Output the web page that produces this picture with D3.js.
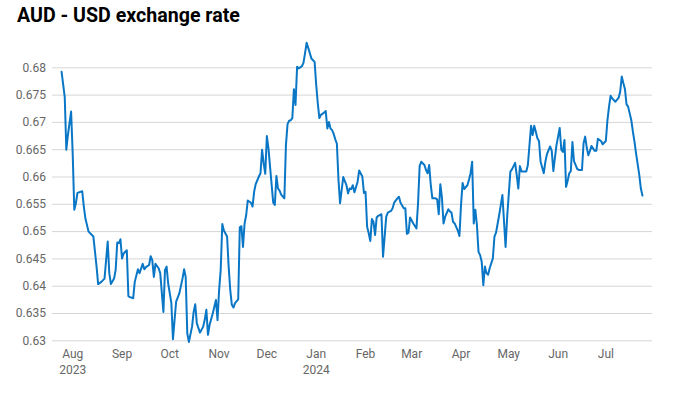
<!DOCTYPE html>
<html>
<head>
<meta charset="utf-8">
<script src="https://cdn.jsdelivr.net/npm/d3@7"></script>
<style>
  html, body { margin: 0; padding: 0; background: #fff; }
  svg { display: block; }
</style>
</head>
<body>
<svg id="chart" width="695" height="393"></svg>
<script>
const titleText = "AUD - USD exchange rate";

const dates = [
"2023-07-25","2023-07-27","2023-07-28","2023-07-29","2023-07-31","2023-08-01","2023-08-02","2023-08-03","2023-08-04","2023-08-07",
"2023-08-08","2023-08-09","2023-08-11","2023-08-14","2023-08-16","2023-08-17","2023-08-19","2023-08-21","2023-08-23","2023-08-24",
"2023-08-25","2023-08-27","2023-08-28","2023-08-29","2023-08-30","2023-08-31","2023-09-01","2023-09-02","2023-09-04","2023-09-05",
"2023-09-06","2023-09-08","2023-09-09","2023-09-11","2023-09-12","2023-09-14","2023-09-15","2023-09-16","2023-09-18","2023-09-19",
"2023-09-20","2023-09-21","2023-09-22","2023-09-24","2023-09-25","2023-09-27","2023-09-28","2023-09-29","2023-09-30","2023-10-02",
"2023-10-03","2023-10-05","2023-10-07","2023-10-09","2023-10-10","2023-10-11","2023-10-12","2023-10-13","2023-10-15","2023-10-16",
"2023-10-17","2023-10-18","2023-10-20","2023-10-22","2023-10-23","2023-10-24","2023-10-25","2023-10-26","2023-10-28","2023-10-30",
"2023-10-31","2023-11-01","2023-11-02","2023-11-03","2023-11-04","2023-11-06","2023-11-07","2023-11-08","2023-11-09","2023-11-10",
"2023-11-11","2023-11-13","2023-11-14","2023-11-15","2023-11-16","2023-11-17","2023-11-18","2023-11-19","2023-11-21","2023-11-22",
"2023-11-23","2023-11-24","2023-11-26","2023-11-27","2023-11-28","2023-11-29","2023-11-30","2023-12-01","2023-12-02","2023-12-03",
"2023-12-05","2023-12-06","2023-12-07","2023-12-08","2023-12-09","2023-12-10","2023-12-12","2023-12-13","2023-12-14","2023-12-15",
"2023-12-16","2023-12-17","2023-12-18","2023-12-19","2023-12-20","2023-12-21","2023-12-23","2023-12-24","2023-12-25","2023-12-26",
"2023-12-28","2023-12-29","2023-12-30","2023-12-31","2024-01-01","2024-01-02","2024-01-03","2024-01-04","2024-01-06","2024-01-07",
"2024-01-08","2024-01-09","2024-01-10","2024-01-11","2024-01-12","2024-01-13","2024-01-14","2024-01-15","2024-01-16","2024-01-17",
"2024-01-18","2024-01-20","2024-01-21","2024-01-22","2024-01-23","2024-01-24","2024-01-25","2024-01-27","2024-01-28","2024-01-30",
"2024-01-31","2024-02-01","2024-02-02","2024-02-03","2024-02-04","2024-02-05","2024-02-06","2024-02-07","2024-02-08","2024-02-09",
"2024-02-11","2024-02-12","2024-02-14","2024-02-15","2024-02-17","2024-02-18","2024-02-19","2024-02-21","2024-02-22","2024-02-23",
"2024-02-25","2024-02-26","2024-02-27","2024-02-28","2024-02-29","2024-03-02","2024-03-04","2024-03-05","2024-03-06","2024-03-07",
"2024-03-09","2024-03-10","2024-03-11","2024-03-12","2024-03-13","2024-03-14","2024-03-16","2024-03-17","2024-03-18","2024-03-19",
"2024-03-20","2024-03-21","2024-03-22","2024-03-24","2024-03-25","2024-03-26","2024-03-27","2024-03-28","2024-03-30","2024-03-31",
"2024-04-01","2024-04-02","2024-04-03","2024-04-05","2024-04-06","2024-04-07","2024-04-08","2024-04-09","2024-04-10","2024-04-11",
"2024-04-12","2024-04-13","2024-04-14","2024-04-15","2024-04-16","2024-04-17","2024-04-18","2024-04-19","2024-04-21","2024-04-22",
"2024-04-23","2024-04-25","2024-04-26","2024-04-27","2024-04-29","2024-04-30","2024-05-02","2024-05-03","2024-05-05","2024-05-06",
"2024-05-07","2024-05-08","2024-05-09","2024-05-12","2024-05-13","2024-05-15","2024-05-16","2024-05-17","2024-05-18","2024-05-19",
"2024-05-20","2024-05-21","2024-05-23","2024-05-24","2024-05-25","2024-05-27","2024-05-28","2024-05-29","2024-05-30","2024-05-31",
"2024-06-01","2024-06-02","2024-06-03","2024-06-04","2024-06-05","2024-06-06","2024-06-07","2024-06-08","2024-06-09","2024-06-10",
"2024-06-11","2024-06-13","2024-06-14","2024-06-16","2024-06-17","2024-06-18","2024-06-19","2024-06-20","2024-06-21","2024-06-22",
"2024-06-24","2024-06-25","2024-06-26","2024-06-28","2024-06-29","2024-07-01","2024-07-02","2024-07-03","2024-07-04","2024-07-05",
"2024-07-07","2024-07-09","2024-07-10","2024-07-11","2024-07-12","2024-07-13","2024-07-14","2024-07-15","2024-07-17","2024-07-18",
"2024-07-19","2024-07-20","2024-07-22","2024-07-23","2024-07-24"
];

const rates = [
0.6792,0.6746,0.6649,0.6676,0.6719,0.6642,0.6539,0.6551,0.6570,0.6573,
0.6545,0.6523,0.6499,0.6490,0.6435,0.6403,0.6407,0.6413,0.6481,0.6423,
0.6403,0.6413,0.6429,0.6479,0.6478,0.6485,0.6450,0.6459,0.6465,0.6381,
0.6379,0.6377,0.6407,0.6430,0.6423,0.6440,0.6430,0.6434,0.6438,0.6454,
0.6447,0.6416,0.6440,0.6432,0.6423,0.6352,0.6429,0.6435,0.6404,0.6368,
0.6302,0.6371,0.6386,0.6413,0.6430,0.6416,0.6313,0.6297,0.6325,0.6352,
0.6366,0.6331,0.6314,0.6325,0.6338,0.6356,0.6310,0.6328,0.6349,0.6374,
0.6337,0.6392,0.6429,0.6513,0.6501,0.6490,0.6435,0.6392,0.6365,0.6360,
0.6368,0.6375,0.6507,0.6509,0.6471,0.6514,0.6529,0.6556,0.6552,0.6545,
0.6572,0.6586,0.6600,0.6606,0.6649,0.6624,0.6605,0.6674,0.6652,0.6618,
0.6552,0.6548,0.6601,0.6578,0.6574,0.6567,0.6560,0.6658,0.6696,0.6702,
0.6703,0.6707,0.6760,0.6731,0.6801,0.6798,0.6802,0.6808,0.6826,0.6845,
0.6826,0.6816,0.6813,0.6810,0.6768,0.6734,0.6707,0.6713,0.6717,0.6720,
0.6688,0.6700,0.6688,0.6685,0.6678,0.6668,0.6660,0.6594,0.6551,0.6575,
0.6599,0.6584,0.6569,0.6578,0.6577,0.6584,0.6571,0.6590,0.6611,0.6600,
0.6570,0.6572,0.6508,0.6496,0.6482,0.6522,0.6517,0.6493,0.6525,0.6528,
0.6531,0.6453,0.6526,0.6534,0.6537,0.6542,0.6552,0.6560,0.6563,0.6552,
0.6542,0.6542,0.6495,0.6497,0.6525,0.6514,0.6505,0.6551,0.6619,0.6627,
0.6621,0.6612,0.6606,0.6621,0.6584,0.6560,0.6560,0.6558,0.6531,0.6586,
0.6562,0.6514,0.6526,0.6540,0.6536,0.6534,0.6517,0.6514,0.6501,0.6491,
0.6548,0.6588,0.6577,0.6584,0.6594,0.6606,0.6627,0.6514,0.6539,0.6511,
0.6462,0.6456,0.6444,0.6401,0.6435,0.6423,0.6420,0.6432,0.6450,0.6490,
0.6497,0.6530,0.6548,0.6566,0.6471,0.6526,0.6609,0.6613,0.6625,0.6603,
0.6578,0.6619,0.6609,0.6609,0.6621,0.6693,0.6676,0.6693,0.6682,0.6670,
0.6665,0.6627,0.6606,0.6627,0.6641,0.6655,0.6647,0.6610,0.6634,0.6658,
0.6673,0.6689,0.6649,0.6645,0.6667,0.6581,0.6592,0.6606,0.6610,0.6663,
0.6628,0.6614,0.6612,0.6612,0.6661,0.6673,0.6653,0.6639,0.6647,0.6656,
0.6647,0.6647,0.6669,0.6665,0.6659,0.6665,0.6703,0.6728,0.6748,0.6743,
0.6737,0.6744,0.6755,0.6783,0.6771,0.6760,0.6732,0.6728,0.6703,0.6682,
0.6664,0.6642,0.6603,0.6578,0.6565
];

const yTicks = [0.63, 0.635, 0.64, 0.645, 0.65, 0.655, 0.66, 0.665, 0.67, 0.675, 0.68];
const xTickDates = ["2023-08-01","2023-09-01","2023-10-01","2023-11-01","2023-12-01","2024-01-01",
                    "2024-02-01","2024-03-01","2024-04-01","2024-05-01","2024-06-01","2024-07-01"];
const xTickMonths = ["Aug","Sep","Oct","Nov","Dec","Jan","Feb","Mar","Apr","May","Jun","Jul"];
const xTickYears  = ["2023","","","","","2024","","","","","",""];

const parse = d3.timeParse("%Y-%m-%d");
const data = dates.map((d, i) => ({ date: parse(d), value: rates[i] }));

const svg = d3.select("#chart");
const left = 52, right = 652;

const x = d3.scaleTime()
  .domain([new Date(2023, 6, 19), new Date(2024, 6, 30)])
  .range([left, right]);
const y = d3.scaleLinear()
  .domain([0.63, 0.68])
  .range([340.3, 67.3]);

// title
const title = svg.append("text")
  .attr("x", 17).attr("y", 22)
  .attr("font-family", "Roboto, 'Open Sans', sans-serif")
  .attr("font-weight", 700)
  .attr("font-size", 19)
  .attr("fill", "#000")
  .text(titleText);
const tl = title.node().getComputedTextLength();
if (tl > 0) title.attr("font-size", 19 * 223 / tl);

// y axis with gridlines
const yAxis = d3.axisLeft(y)
  .tickValues(yTicks)
  .tickSize(-(right - left))
  .tickPadding(6)
  .tickFormat(d => String(+d.toFixed(3)));
const gy = svg.append("g")
  .attr("transform", `translate(${left},0)`)
  .call(yAxis);
gy.select(".domain").remove();
gy.selectAll(".tick line").attr("stroke", "#d6d6d6").attr("stroke-width", 1);
gy.selectAll(".tick text")
  .attr("fill", "#666")
  .attr("font-family", "Roboto, sans-serif")
  .attr("font-size", 12);

// x axis labels
const gx = svg.append("g");
xTickDates.forEach((d, i) => {
  const t = gx.append("text")
    .attr("x", x(parse(d)))
    .attr("y", 358)
    .attr("text-anchor", "middle")
    .attr("fill", "#666")
    .attr("font-family", "Roboto, sans-serif")
    .attr("font-size", 12);
  t.append("tspan").attr("x", x(parse(d))).attr("y", 358).text(xTickMonths[i]);
  if (xTickYears[i]) t.append("tspan").attr("x", x(parse(d))).attr("y", 374).text(xTickYears[i]);
});

// line
const line = d3.line()
  .x(d => x(d.date))
  .y(d => y(d.value));
svg.append("path")
  .datum(data)
  .attr("d", line)
  .attr("fill", "none")
  .attr("stroke", "#0a77c6")
  .attr("stroke-width", 2)
  .attr("stroke-linejoin", "round")
  .attr("stroke-linecap", "round");
</script>
</body>
</html>
